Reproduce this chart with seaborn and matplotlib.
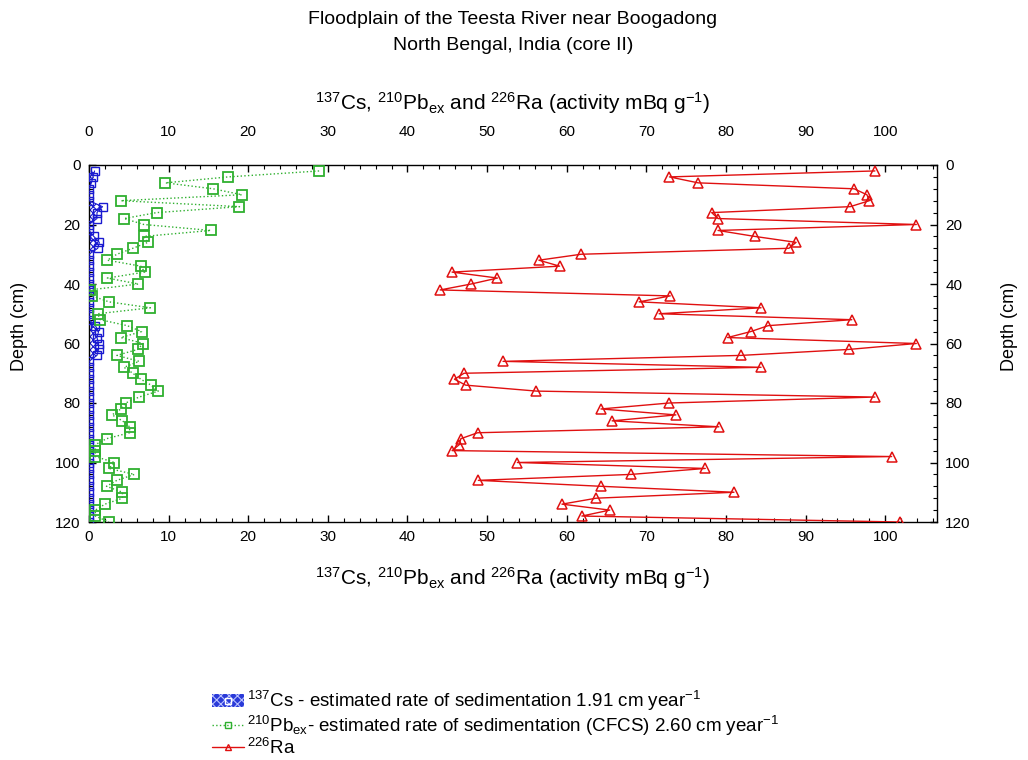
import matplotlib
matplotlib.use("Agg")
import matplotlib.pyplot as plt
from matplotlib.ticker import MultipleLocator
from matplotlib.patches import Patch
from matplotlib.lines import Line2D
import pandas as pd
import seaborn as sns

# Sample depths (cm) of core II
depth_cm = list(range(2, 122, 2))

# 210Pb excess activity (mBq/g)
pb210_ex = [28.9, 17.5, 9.6, 15.6, 19.2, 4.0, 18.9, 8.5, 4.4, 6.9,
            15.3, 6.9, 7.4, 5.5, 3.5, 2.3, 6.5, 7.0, 2.3, 6.2,
            0.1, 0.4, 2.5, 7.7, 1.1, 1.4, 4.8, 6.6, 4.0, 6.8,
            6.1, 3.5, 6.3, 4.4, 5.5, 6.5, 7.8, 8.7, 6.3, 4.6,
            4.0, 2.9, 4.2, 5.1, 5.1, 2.2, 0.8, 0.8, 0.8, 3.2,
            2.5, 5.7, 3.5, 2.2, 4.2, 4.2, 2.0, 0.8, 0.8, 2.5]

# 226Ra activity (mBq/g)
ra226 = [98.7, 72.9, 76.5, 96.1, 97.7, 98.0, 95.6, 78.2, 79.0, 103.9,
         79.0, 83.6, 88.8, 87.9, 61.8, 56.5, 59.1, 45.6, 51.3, 48.0,
         44.1, 73.0, 69.1, 84.4, 71.6, 95.8, 85.3, 83.1, 80.2, 103.9,
         95.4, 81.9, 52.0, 84.4, 47.1, 45.9, 47.3, 56.2, 98.7, 72.9,
         64.3, 73.7, 65.7, 79.1, 48.8, 46.7, 46.5, 45.6, 100.8, 53.8,
         77.4, 68.1, 48.9, 64.3, 81.0, 63.7, 59.4, 65.4, 61.9, 101.8]

# 137Cs activity (mBq/g)
cs137 = [0.7, 0.5, 0.3, 0.0, 0.0, 0.0, 1.7, 1.0, 1.0, 0.0,
         0.0, 0.6, 1.3, 1.1, 0.0, 0.0, 0.0, 0.0, 0.0, 0.0,
         0.0, 0.0, 0.0, 0.0, 0.0, 0.0, 0.8, 1.2, 1.0, 1.2,
         1.2, 1.0, 0.0, 0.0, 0.0, 0.0, 0.0, 0.0, 0.0, 0.0,
         0.0, 0.0, 0.0, 0.0, 0.0, 0.0, 0.0, 0.0, 0.0, 0.0,
         0.0, 0.0, 0.0, 0.0, 0.0, 0.0, 0.0, 0.0, 0.0, 0.0]

x_ticks = [0, 10, 20, 30, 40, 50, 60, 70, 80, 90, 100]
y_ticks = [0, 20, 40, 60, 80, 100, 120]

df = pd.DataFrame({"depth": depth_cm, "pb": pb210_ex, "ra": ra226, "cs": cs137})

sns.set_theme(style="white")
plt.rcParams["font.family"] = ["Liberation Sans", "DejaVu Sans"]
plt.rcParams["mathtext.fontset"] = "custom"
plt.rcParams["mathtext.rm"] = "Liberation Sans"
plt.rcParams["mathtext.it"] = "Liberation Sans"
plt.rcParams["mathtext.default"] = "regular"
plt.rcParams["hatch.linewidth"] = 0.8
plt.rcParams["text.color"] = "black"

CS_BLUE = "#1a1ad0"
PB_GREEN = "#2fb02f"
RA_RED = "#e01010"

fig = plt.figure(figsize=(10.28, 7.60), dpi=100)
ax = fig.add_axes([89 / 1028, 1 - 522 / 760, (937 - 89) / 1028, (522 - 165) / 760])

# 137Cs: hatched area plus open squares
ax.fill_betweenx(df["depth"], 0, df["cs"], facecolor="white", edgecolor=CS_BLUE,
                 hatch="xxxxx", linewidth=0, zorder=2)
sns.lineplot(data=df, x="cs", y="depth", sort=False, estimator=None, ax=ax,
             color=CS_BLUE, lw=0.8, marker="s", ms=6, mfc="none", mec=CS_BLUE,
             mew=1.0, zorder=3)

# 210Pb excess: dotted green with open squares
sns.lineplot(data=df, x="pb", y="depth", sort=False, estimator=None, ax=ax,
             color=PB_GREEN, lw=1.0, linestyle=":", marker="s", ms=7, mfc="none",
             mec=PB_GREEN, mew=1.3, zorder=4)

# 226Ra: solid red with open triangles
sns.lineplot(data=df, x="ra", y="depth", sort=False, estimator=None, ax=ax,
             color=RA_RED, lw=1.0, marker="^", ms=6.5, mfc="none", mec=RA_RED,
             mew=1.1, zorder=5)

ax.set_xlim(0, 106.5)
ax.set_ylim(120, 0)
ax.set_xlabel("")
ax.set_ylabel("")

for s in ax.spines.values():
    s.set_color("black")
    s.set_linewidth(1.0)

ax.set_xticks(x_ticks)
ax.set_yticks(y_ticks)
ax.xaxis.set_minor_locator(MultipleLocator(2))
ax.yaxis.set_minor_locator(MultipleLocator(4))
ax.tick_params(axis="both", which="both", direction="in", color="black",
               bottom=True, top=True, left=True, right=True,
               labelbottom=True, labeltop=False, labelleft=True, labelright=True,
               labelsize=11, labelcolor="black")
ax.tick_params(which="major", length=5, width=1.0)
ax.tick_params(which="minor", length=3, width=0.8)
ax.tick_params(axis="x", pad=6)
ax.tick_params(axis="y", pad=6)

# Upper activity scale
top = ax.secondary_xaxis("top")
top.set_xticks(x_ticks)
top.tick_params(axis="x", which="both", length=0, pad=19, labelsize=11, labelcolor="black")
top.spines["top"].set_visible(False)

axis_title = r"$^{137}$Cs, $^{210}$Pb$_{ex}$ and $^{226}$Ra (activity mBq g$^{-1}$)"
fig.text(513 / 1028, 1 - 103 / 760, axis_title, ha="center", va="center", fontsize=15)
fig.text(513 / 1028, 1 - 578 / 760, axis_title, ha="center", va="center", fontsize=15)
fig.text(20 / 1028, 1 - 326 / 760, "Depth (cm)", rotation=90, ha="center", va="center", fontsize=13)
fig.text(1010 / 1028, 1 - 326 / 760, "Depth (cm)", rotation=90, ha="center", va="center", fontsize=13)

fig.text(513 / 1028, 1 - 20 / 760, "Floodplain of the Teesta River near Boogadong",
         ha="center", va="center", fontsize=14)
fig.text(513 / 1028, 1 - 45 / 760, "North Bengal, India (core II)",
         ha="center", va="center", fontsize=14)

handles = [
    (Patch(facecolor="#2a3ad8", edgecolor="#b8c0ff", hatch="xxxx", linewidth=0),
     Line2D([], [], ls="none", marker="s", ms=5, mfc="none", mec="white", mew=1.0)),
    Line2D([], [], color=PB_GREEN, ls=":", lw=1.0, marker="s", ms=5, mfc="none", mec=PB_GREEN),
    Line2D([], [], color=RA_RED, ls="-", lw=1.0, marker="^", ms=5, mfc="none", mec=RA_RED),
]
labels = [
    r"$^{137}$Cs - estimated rate of sedimentation 1.91 cm year$^{-1}$",
    r"$^{210}$Pb$_{ex}$- estimated rate of sedimentation (CFCS) 2.60 cm year$^{-1}$",
    r"$^{226}$Ra",
]
fig.legend(handles, labels, loc="upper left", bbox_to_anchor=(203 / 1028, 1 - 680 / 760),
           frameon=False, fontsize=13.5, handlelength=1.7, handletextpad=0.15,
           labelspacing=0.0, borderpad=0, labelcolor="black")

fig.savefig("out.png", dpi=100, facecolor="white")
